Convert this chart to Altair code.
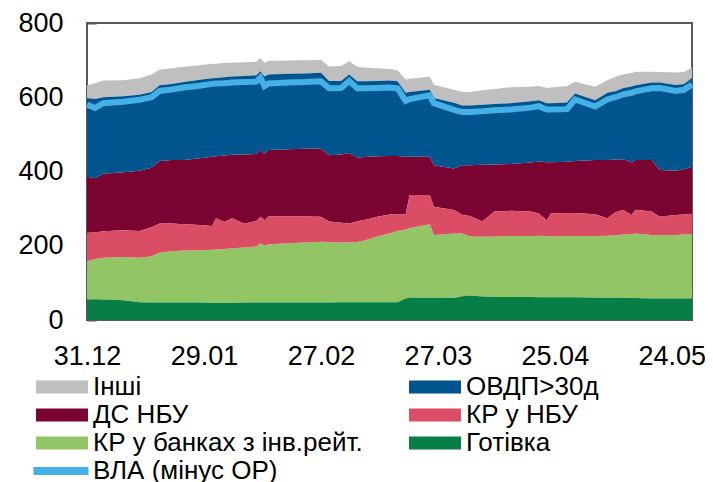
import altair as alt
import pandas as pd

# dates (2019-12-31 .. 2020-05-29)
dates = [
    "2019-12-31", "2020-01-02", "2020-01-04", "2020-01-09", "2020-01-13", "2020-01-16",
    "2020-01-18", "2020-01-21", "2020-01-24", "2020-01-28", "2020-01-31", "2020-02-01",
    "2020-02-03", "2020-02-05", "2020-02-08", "2020-02-11", "2020-02-12", "2020-02-13",
    "2020-02-14", "2020-02-19", "2020-02-23", "2020-02-27", "2020-02-29", "2020-03-03",
    "2020-03-05", "2020-03-07", "2020-03-09", "2020-03-12", "2020-03-15", "2020-03-17",
    "2020-03-19", "2020-03-20", "2020-03-25", "2020-03-26", "2020-03-31", "2020-04-02",
    "2020-04-04", "2020-04-07", "2020-04-10", "2020-04-14", "2020-04-19", "2020-04-21",
    "2020-04-23", "2020-04-24", "2020-04-28", "2020-04-30", "2020-05-05", "2020-05-08",
    "2020-05-10", "2020-05-12", "2020-05-14", "2020-05-15", "2020-05-19", "2020-05-21",
    "2020-05-25", "2020-05-27", "2020-05-29",
]

gotivka = [55, 56, 55, 53, 48, 47, 47, 47, 47, 47, 46, 46, 46, 46, 47, 47, 47, 47, 47, 47,
           47, 47, 47, 48, 48, 48, 48, 48, 48, 48, 58, 60, 60, 60, 59, 64, 66, 63, 62, 62,
           62, 61, 61, 61, 61, 61, 60, 60, 60, 59, 59, 59, 58, 58, 58, 58, 58]
kr_banks = [103, 108, 113, 117, 120, 125, 135, 138, 140, 141, 143, 144, 145, 147, 148, 151,
            160, 153, 157, 160, 162, 164, 163, 161, 161, 162, 167, 177, 186, 192, 186, 188,
            198, 169, 174, 169, 159, 161, 163, 164, 164, 166, 165, 164, 165, 165, 166, 167,
            168, 171, 172, 174, 171, 170, 171, 172, 173]
kr_nbu = [77, 72, 71, 72, 72, 78, 78, 75, 71, 68, 64, 84, 73, 81, 64, 69, 71, 69, 75, 72,
          70, 67, 55, 53, 51, 56, 55, 53, 50, 44, 40, 89, 79, 76, 63, 50, 55, 41, 67, 68,
          66, 60, 43, 62, 62, 62, 59, 47, 62, 66, 52, 64, 63, 50, 54, 54, 55]
ds_nbu = [151, 146, 155, 156, 162, 160, 168, 171, 173, 180, 187, 167, 179, 171, 187, 180,
          180, 178, 179, 181, 182, 184, 179, 184, 190, 172, 169, 163, 158, 158, 156, 103,
          103, 112, 112, 134, 137, 153, 127, 126, 132, 140, 156, 138, 138, 140, 146, 157,
          142, 137, 142, 134, 139, 126, 119, 122, 127]
ovdp = [211, 213, 206, 205, 205, 204, 204, 205, 210, 211, 211, 211, 211, 211, 211, 212,
        212, 209, 203, 203, 203, 204, 200, 198, 211, 205, 204, 203, 203, 201, 172, 174,
        180, 181, 177, 161, 161, 162, 163, 164, 165, 165, 159, 159, 160, 182, 161, 181,
        184, 192, 204, 201, 209, 236, 231, 230, 239]
inshi = [35, 43, 45, 43, 44, 47, 42, 42, 41, 39, 39, 38, 38, 37, 37, 37, 36, 36, 37, 36,
         36, 35, 39, 40, 36, 39, 37, 34, 31, 30, 36, 36, 35, 36, 35, 37, 36, 39, 40, 43,
         39, 38, 41, 42, 44, 32, 36, 34, 39, 37, 36, 37, 29, 28, 34, 32, 28]
vla = [580, 571, 584, 588, 593, 600, 617, 621, 626, 631, 636, 637, 638, 640, 641, 642,
       653, 630, 637, 640, 641, 643, 624, 625, 644, 624, 624, 625, 626, 624, 590, 595,
       605, 584, 566, 560, 560, 562, 565, 567, 572, 576, 567, 567, 568, 594, 575, 594,
       600, 608, 612, 616, 624, 625, 617, 620, 634]

# legend order (column-major for a 2-column legend)
series_names = ["Інші", "ДС НБУ", "КР у банках з інв.рейт.", "ОВДП>30д", "КР у НБУ", "Готівка"]
series_colors = ["#bfbfbf", "#7b0331", "#92c565", "#00558e", "#db4c65", "#077e45"]
stack_rank = [5, 3, 1, 4, 2, 0]
series_values = [inshi, ds_nbu, kr_banks, ovdp, kr_nbu, gotivka]
line_name = "ВЛА (мінус ОР)"
line_color = "#45b0e5"

tick_dates = ["2019-12-31", "2020-01-29", "2020-02-27", "2020-03-27", "2020-04-25", "2020-05-24"]
y_ticks = [0, 200, 400, 600, 800]

rows = []
for name, rank, vals in zip(series_names, stack_rank, series_values):
    for d, v in zip(dates, vals):
        rows.append({"date": d + "T00:00:00", "series": name, "rank": rank, "value": v})
df = pd.DataFrame(rows)
df_line = pd.DataFrame({"date": [d + "T00:00:00" for d in dates], "value": vla, "name": line_name})

def to_dt(s):
    y, m, d = s.split("-")
    return alt.DateTime(year=int(y), month=int(m), date=int(d))

x_enc = alt.X(
    "date:T",
    scale=alt.Scale(domain=[to_dt(dates[0]), to_dt(dates[-1])], nice=False),
    axis=alt.Axis(values=[to_dt(t) for t in tick_dates], format="%d.%m", title=None,
                  domain=False, grid=False, offset=-8, tickSize=8, labelPadding=23,
                  tickColor="#595959", tickWidth=2, labelFlush=False),
)

area = alt.Chart(df).mark_area().encode(
    x=x_enc,
    y=alt.Y("value:Q", stack="zero",
            scale=alt.Scale(domain=[0, 800], nice=False),
            axis=alt.Axis(values=y_ticks, title=None, domain=False, grid=False,
                          offset=-9, tickSize=9, labelPadding=24,
                          tickColor="#595959", tickWidth=2)),
    fill=alt.Fill("series:N",
                  scale=alt.Scale(domain=series_names, range=series_colors),
                  legend=alt.Legend(title=None, orient="none", legendX=-38, legendY=351,
                                    columns=2, columnPadding=46, rowPadding=2,
                                    symbolType="M-5.2,-1.3H5.2V1.3H-5.2Z", symbolSize=100,
                                    symbolStrokeWidth=0, labelOffset=18, padding=0)),
    order=alt.Order("rank:Q", sort="ascending"),
)

line = alt.Chart(df_line).mark_line(strokeWidth=6).encode(
    x="date:T",
    y="value:Q",
    stroke=alt.Stroke("name:N",
                      scale=alt.Scale(domain=[line_name], range=[line_color]),
                      legend=alt.Legend(title=None, orient="none", legendX=-39, legendY=435,
                                        symbolType="M-5.5,0H5.5", symbolSize=100,
                                        symbolStrokeWidth=8, labelOffset=19, padding=0)),
)

chart = alt.layer(area, line).properties(
    width=605, height=297,
    padding={"left": 79, "top": 15, "right": 13, "bottom": 163},
    autosize=alt.AutoSizeParams(type="none"),
).configure_view(
    stroke="#595959", strokeWidth=2
).configure_axis(
    labelFont="Liberation Sans", labelFontSize=27, labelColor="#000000"
).configure_legend(
    labelFont="Liberation Sans", labelFontSize=26, labelColor="#000000", labelLimit=0
)

chart.save("out.html", embed_options={"renderer": "svg", "actions": False})
